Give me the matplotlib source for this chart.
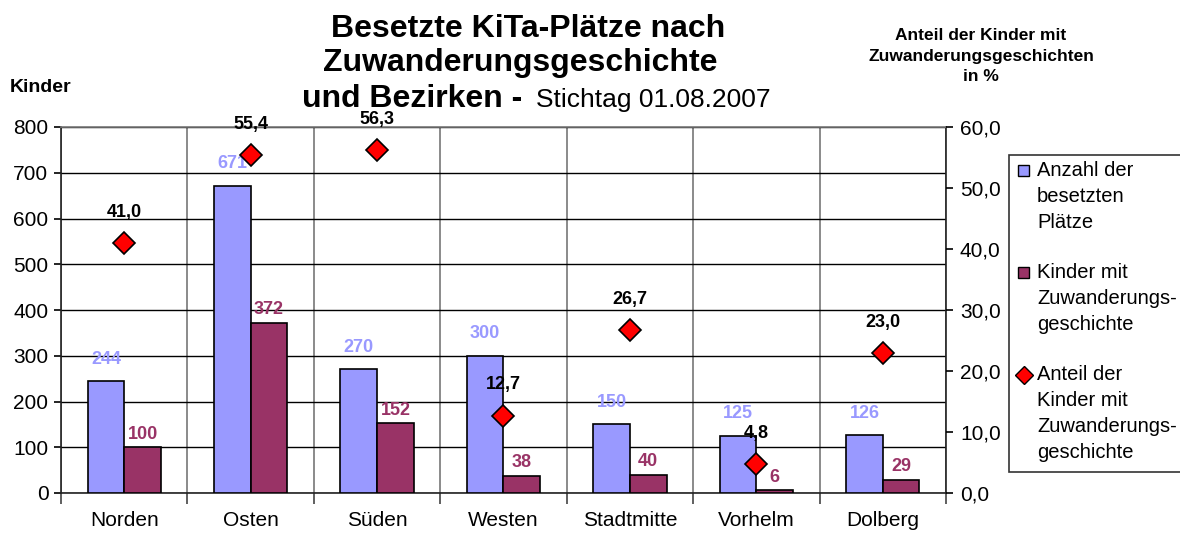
import matplotlib
matplotlib.use("Agg")
import matplotlib.pyplot as plt
from matplotlib.patches import Rectangle
from matplotlib.lines import Line2D
from matplotlib.ticker import FuncFormatter, FixedLocator

plt.rcParams['font.family'] = ['Liberation Sans', 'DejaVu Sans']

categories = ["Norden", "Osten", "Süden", "Westen", "Stadtmitte", "Vorhelm", "Dolberg"]
plaetze = [244, 671, 270, 300, 150, 125, 126]
zuwanderung = [100, 372, 152, 38, 40, 6, 29]
anteil = [41.0, 55.4, 56.3, 12.7, 26.7, 4.8, 23.0]

legend_labels = ["Anzahl der\nbesetzten\nPlätze",
                 "Kinder mit\nZuwanderungs-\ngeschichte",
                 "Anteil der\nKinder mit\nZuwanderungs-\ngeschichte"]

BLUE = "#9999FF"
MAROON = "#993366"

W, H = 1180, 534
fig = plt.figure(figsize=(W / 100, H / 100), dpi=100)

def fx(px):
    return px / W

def fy(py):
    return 1 - py / H

ax = fig.add_axes([fx(61), fy(493), fx(946) - fx(61), fy(127) - fy(493)])
ax2 = ax.twinx()

x = list(range(len(categories)))
bw = 0.29
xb = [i - bw / 2 for i in x]
xm = [i + bw / 2 for i in x]
ax.bar(xb, plaetze, width=bw, color=BLUE, edgecolor="black", linewidth=1.2, zorder=3)
ax.bar(xm, zuwanderung, width=bw, color=MAROON, edgecolor="black", linewidth=1.2, zorder=3)

for xi, v in zip(xb, plaetze):
    ax.annotate(str(v), (xi, v), xytext=(0, 16), textcoords="offset points",
                ha="center", va="center", color=BLUE, fontsize=13, fontweight="bold", zorder=5)
for xi, v in zip(xm, zuwanderung):
    ax.annotate(str(v), (xi, v), xytext=(0, 9.5), textcoords="offset points",
                ha="center", va="center", color=MAROON, fontsize=13, fontweight="bold", zorder=5)

ax.set_xlim(-0.5, len(categories) - 0.5)
ax.set_ylim(0, 800)
ax.set_yticks(range(0, 801, 100))
ax.set_xticks(x)
ax.set_xticklabels(categories, fontsize=15)
ax.xaxis.set_minor_locator(FixedLocator([i - 0.5 for i in range(len(categories) + 1)]))
ax.tick_params(axis="x", which="major", length=0, pad=13)
ax.tick_params(axis="x", which="minor", length=8, width=1.2, color="#444444")
ax.tick_params(axis="y", labelsize=15, length=5, width=1.2, pad=4)
ax.yaxis.grid(True, color="black", linewidth=1.0)
ax.xaxis.grid(True, which="minor", color="#777777", linewidth=1.2)
ax.set_axisbelow(True)
for s in ["left", "bottom", "right"]:
    ax.spines[s].set_color("#222222")
    ax.spines[s].set_linewidth(1.2)
ax.spines["top"].set_color("#777777")
ax.spines["top"].set_linewidth(1.2)

ax2.set_ylim(0, 60)
ax2.set_yticks(range(0, 61, 10))
ax2.yaxis.set_major_formatter(FuncFormatter(lambda v, p: f"{v:.1f}".replace(".", ",")))
ax2.tick_params(axis="y", labelsize=15, length=5, width=1.2, pad=5)
ax2.plot(x, anteil, linestyle="none", marker="D", markersize=11,
         markerfacecolor="#FF0000", markeredgecolor="black", markeredgewidth=1.2, zorder=4)
for xi, v in zip(x, anteil):
    ax2.annotate(f"{v:.1f}".replace(".", ","), (xi, v), xytext=(0, 22), textcoords="offset points",
                 ha="center", va="center", color="black", fontsize=13, fontweight="bold")
for s in ax2.spines.values():
    s.set_visible(False)

# Titles
fig.text(fx(528), fy(37), "Besetzte KiTa-Plätze nach", ha="center", va="baseline",
         fontsize=23, fontweight="bold")
fig.text(fx(520), fy(71), "Zuwanderungsgeschichte", ha="center", va="baseline",
         fontsize=23, fontweight="bold")
fig.text(fx(531), fy(107), "und Bezirken - ", ha="right", va="baseline",
         fontsize=23, fontweight="bold")
fig.text(fx(536), fy(107), "Stichtag 01.08.2007", ha="left", va="baseline",
         fontsize=19)

fig.text(fx(10), fy(88), "Kinder", ha="left", va="center", fontsize=14, fontweight="bold")
fig.text(fx(981), fy(56), "Anteil der Kinder mit\nZuwanderungsgeschichten\nin %",
         ha="center", va="center", fontsize=12.5, fontweight="bold", linespacing=1.45)

# Legend (manual)
fig.patches.append(Rectangle((fx(1009), fy(472)), fx(1200) - fx(1009), fy(155) - fy(472),
                             transform=fig.transFigure, facecolor="white",
                             edgecolor="#333333", linewidth=1.2))
line_h = 26
starts = [170, 272, 375]
for i, (lab, y0) in enumerate(zip(legend_labels, starts)):
    for j, line in enumerate(lab.split("\n")):
        fig.text(fx(1037), fy(y0 + j * line_h), line, ha="left", va="center", fontsize=14.5)
h1 = Rectangle((fx(1018), fy(176)), fx(11), 11 / H, transform=fig.transFigure,
               facecolor=BLUE, edgecolor="black", linewidth=1.0)
h2 = Rectangle((fx(1018), fy(278)), fx(11), 11 / H, transform=fig.transFigure,
               facecolor=MAROON, edgecolor="black", linewidth=1.0)
fig.patches.extend([h1, h2])
fig.lines.append(Line2D([fx(1024)], [fy(375)], transform=fig.transFigure, marker="D",
                        markersize=9, markerfacecolor="#FF0000", markeredgecolor="black",
                        markeredgewidth=1.0, linestyle="none"))

fig.savefig("out.png", dpi=100)
